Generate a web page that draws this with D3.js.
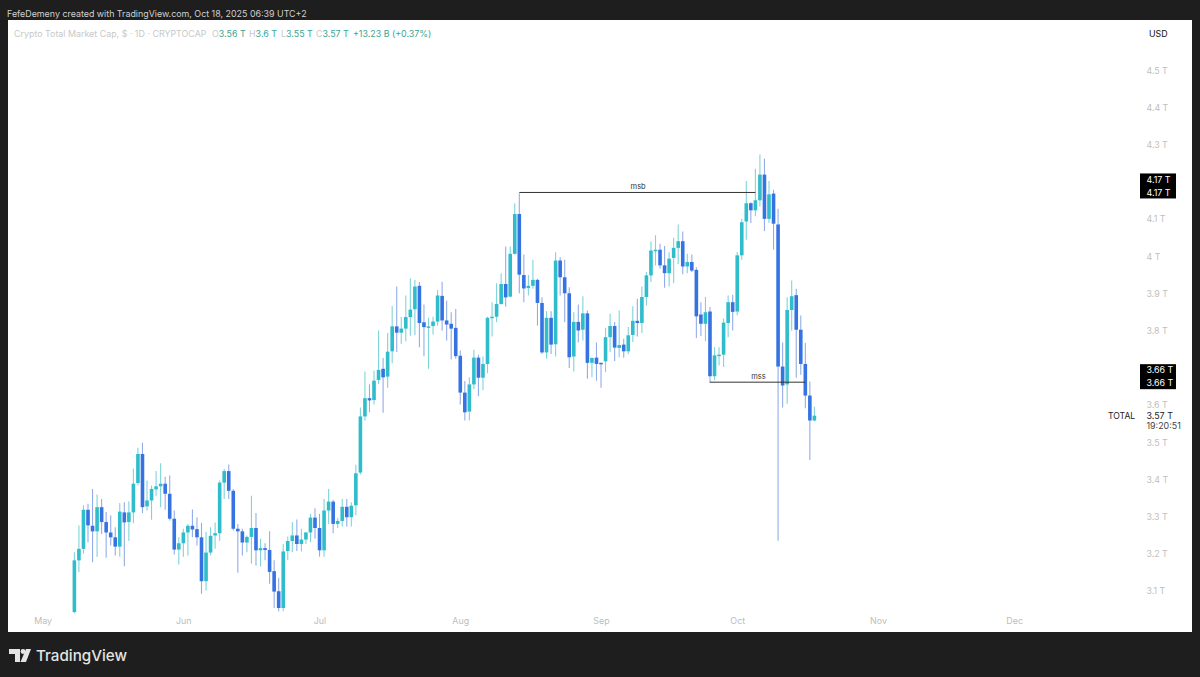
<!DOCTYPE html>
<html><head><meta charset="utf-8">
<script src="https://cdnjs.cloudflare.com/ajax/libs/d3/7.8.5/d3.min.js"></script>
<style>html,body{margin:0;padding:0;background:#1e1e1e}svg{display:block}text{font-family:Inter,"Liberation Sans",sans-serif}</style>
</head><body><svg id="c" width="1200" height="677"></svg>
<script>
const opens=[3.042,3.181,3.212,3.317,3.274,3.259,3.324,3.284,3.256,3.243,3.218,3.310,3.284,3.310,3.389,3.467,3.326,3.342,3.372,3.380,3.387,3.360,3.293,3.210,3.227,3.256,3.274,3.265,3.243,3.125,3.202,3.248,3.254,3.390,3.421,3.368,3.266,3.259,3.229,3.244,3.268,3.208,3.214,3.209,3.152,3.098,3.053,3.206,3.233,3.248,3.225,3.237,3.256,3.296,3.268,3.208,3.315,3.339,3.279,3.287,3.325,3.297,3.329,
3.417,3.568,3.617,3.612,3.666,3.696,3.675,3.743,3.810,3.793,3.804,3.835,3.856,3.919,3.821,3.808,3.811,3.823,3.892,3.826,3.817,3.806,3.731,3.632,3.581,3.654,3.726,3.672,3.709,3.833,3.836,3.870,3.924,3.890,4.005,4.112,3.948,3.913,3.919,3.935,3.873,3.740,3.833,3.762,3.987,3.942,3.899,3.729,3.822,3.801,3.845,3.712,3.726,
3.712,3.716,3.781,3.811,3.752,3.761,3.743,3.787,3.825,3.819,3.889,3.947,4.014,4.016,3.974,3.953,3.994,4.021,4.039,3.971,3.983,3.962,3.842,3.817,3.850,3.676,3.732,3.734,3.819,3.875,3.850,4.001,4.092,4.141,4.122,4.149,4.218,4.099,4.167,4.084,3.702,3.654,3.854,3.894,3.801,3.709,3.624,3.557];
const highs=[3.203,3.275,3.329,3.333,3.373,3.358,3.346,3.311,3.302,3.270,3.335,3.337,3.340,3.427,3.484,3.497,3.396,3.382,3.421,3.442,3.406,3.409,3.315,3.243,3.266,3.279,3.318,3.297,3.282,3.257,3.270,3.283,3.396,3.427,3.439,3.373,3.279,3.266,3.248,3.355,3.308,3.239,3.227,3.259,3.181,3.134,3.225,3.245,3.284,3.291,3.266,3.257,3.306,3.321,3.306,3.346,3.373,3.344,3.295,3.346,3.346,3.337,3.438,
3.592,3.689,3.654,3.691,3.799,3.725,3.792,3.865,3.917,3.835,3.893,3.939,3.935,3.929,3.869,3.833,3.836,3.908,3.930,3.879,3.848,3.857,3.745,3.663,3.673,3.747,3.734,3.729,3.836,3.875,3.926,3.953,4.025,4.025,4.141,4.168,4.003,3.948,3.989,3.938,3.888,3.851,3.851,4.009,3.996,3.989,3.915,3.848,3.869,3.891,3.853,3.727,3.767,
3.712,3.806,3.844,3.822,3.853,3.777,3.808,3.864,3.884,3.917,3.956,4.039,4.055,4.032,4.026,4.009,4.048,4.084,4.065,4.005,4.003,3.969,3.875,3.889,3.862,3.754,3.754,3.831,3.893,3.895,4.010,4.099,4.201,4.144,4.234,4.272,4.261,4.201,4.177,4.126,3.767,3.888,3.933,3.911,3.839,3.765,3.662,3.594];
const lows=[3.039,3.149,3.199,3.230,3.176,3.190,3.252,3.188,3.221,3.194,3.191,3.165,3.233,3.281,3.382,3.308,3.315,3.290,3.355,3.324,3.317,3.288,3.197,3.170,3.191,3.194,3.243,3.221,3.091,3.100,3.194,3.212,3.234,3.346,3.346,3.261,3.148,3.194,3.203,3.172,3.167,3.165,3.181,3.118,3.053,3.044,3.044,3.181,3.203,3.206,3.205,3.225,3.230,3.239,3.191,3.191,3.279,3.254,3.268,3.272,3.272,3.272,3.302,
3.412,3.557,3.579,3.600,3.655,3.578,3.645,3.711,3.741,3.763,3.770,3.785,3.787,3.754,3.730,3.696,3.788,3.812,3.799,3.772,3.721,3.723,3.600,3.557,3.557,3.642,3.622,3.638,3.684,3.783,3.821,3.869,3.863,3.888,4.003,3.899,3.875,3.893,3.911,3.812,3.736,3.723,3.736,3.729,3.893,3.821,3.698,3.689,3.767,3.772,3.669,3.673,3.664,
3.645,3.687,3.741,3.717,3.727,3.726,3.735,3.768,3.783,3.792,3.866,3.929,3.974,3.965,3.914,3.917,3.926,3.978,3.950,3.953,3.956,3.779,3.784,3.770,3.658,3.665,3.705,3.701,3.781,3.799,3.840,3.989,4.043,4.088,4.106,4.132,4.066,4.088,4.016,3.234,3.592,3.602,3.799,3.672,3.680,3.590,3.451,3.555];
const closes=[3.181,3.212,3.317,3.275,3.259,3.324,3.284,3.256,3.243,3.218,3.312,3.283,3.310,3.387,3.467,3.324,3.342,3.373,3.380,3.387,3.360,3.293,3.210,3.227,3.256,3.274,3.264,3.243,3.125,3.202,3.247,3.254,3.390,3.421,3.368,3.266,3.259,3.229,3.244,3.268,3.208,3.214,3.209,3.150,3.097,3.053,3.205,3.233,3.248,3.225,3.237,3.256,3.296,3.268,3.208,3.315,3.339,3.279,3.287,3.325,3.297,3.328,3.415,
3.568,3.617,3.611,3.664,3.693,3.673,3.742,3.810,3.793,3.804,3.835,3.855,3.917,3.819,3.808,3.810,3.823,3.893,3.826,3.815,3.804,3.730,3.632,3.579,3.654,3.726,3.672,3.709,3.833,3.836,3.870,3.924,3.888,4.005,4.112,3.949,3.912,3.919,3.935,3.873,3.740,3.833,3.761,3.987,3.942,3.899,3.727,3.822,3.799,3.845,3.712,3.725,3.709,
3.709,3.781,3.811,3.753,3.760,3.743,3.786,3.825,3.819,3.889,3.947,4.014,4.016,3.974,3.953,3.992,4.021,4.039,3.971,3.983,3.960,3.837,3.817,3.848,3.676,3.732,3.734,3.820,3.875,3.849,4.001,4.090,4.141,4.122,4.149,4.218,4.099,4.165,4.086,3.702,3.651,3.854,3.891,3.801,3.709,3.624,3.557,3.570];
const firstDay="2025-05-08";
const priceTicks=[4.5,4.4,4.3,4.1,4.0,3.9,3.8,3.6,3.5,3.4,3.3,3.2,3.1];
const priceTickLabels=["4.5 T","4.4 T","4.3 T","4.1 T","4 T","3.9 T","3.8 T","3.6 T","3.5 T","3.4 T","3.3 T","3.2 T","3.1 T"];
const monthTicks=["2025-05-01","2025-06-01","2025-07-01","2025-08-01","2025-09-01","2025-10-01","2025-11-01","2025-12-01"];
const monthLabels=["May","Jun","Jul","Aug","Sep","Oct","Nov","Dec"];
const levelMsb={label:"msb",value:4.17,from:"2025-08-14",to:"2025-10-05"};
const levelMss={label:"mss",value:3.66,from:"2025-09-25",to:"2025-10-16"};
const flagValues=[["4.17 T","4.17 T"],["3.66 T","3.66 T"]];
const flagAt=[4.17,3.66];
const legendHead="Crypto Total Market Cap, $ · 1D · CRYPTOCAP";
const legendOHLC=[["O","3.56 T"],["H","3.6 T"],["L","3.55 T"],["C","3.57 T"]];
const legendX=[212,249,281,316];
const legendChange="+13.23 B (+0.37%)";

const UP="#2fbccb",DOWN="#3573e2",UPW="#7fd4d8",DOWNW="#93ace8";
const parse=d3.utcParse("%Y-%m-%d");
const x=d3.scaleUtc().domain([parse("2025-05-01"),parse("2025-12-01")]).range([42.6,42.6+214*4.54]);
const y=d3.scaleLinear().domain([3.1,4.5]).range([590.5,69.7]);
const svg=d3.select("#c");
svg.append("rect").attr("width",1200).attr("height",677).attr("fill","#1e1e1e");
svg.append("rect").attr("x",8).attr("y",20).attr("width",1184).attr("height",612).attr("fill","#ffffff");

svg.append("text").attr("x",7).attr("y",16.5).attr("fill","#d0d0d0").attr("font-size",8.9).text("FefeDemeny created with TradingView.com, Oct 18, 2025 06:39 UTC+2");

const lg=svg.append("text").attr("y",36.5).attr("font-size",8.9);
lg.append("tspan").attr("x",14).attr("fill","#c8c8c8").text(legendHead);
legendOHLC.forEach(([k,v],i)=>{
  lg.append("tspan").attr("x",legendX[i]).attr("fill","#c8c8c8").text(k);
  lg.append("tspan").attr("fill","#3aa593").text(v);
});
lg.append("tspan").attr("x",353).attr("fill","#3aa593").text(legendChange);

const dates=opens.map((_,i)=>d3.utcDay.offset(parse(firstDay),i));
const candles=opens.map((o,i)=>({d:dates[i],o,h:highs[i],l:lows[i],c:closes[i]}));
const g=svg.append("g");
g.selectAll("line.w").data(candles).join("line").attr("class","w")
 .attr("x1",d=>x(d.d)).attr("x2",d=>x(d.d)).attr("y1",d=>y(d.h)).attr("y2",d=>y(d.l))
 .attr("stroke",d=>d.c>=d.o?UPW:DOWNW).attr("stroke-width",1.1);
g.selectAll("rect.b").data(candles).join("rect").attr("class","b")
 .attr("x",d=>x(d.d)-1.8).attr("width",3.6)
 .attr("y",d=>y(Math.max(d.o,d.c))).attr("height",d=>Math.max(1.5,Math.abs(y(d.o)-y(d.c))))
 .attr("fill",d=>d.c>=d.o?UP:DOWN);

[levelMsb,levelMss].forEach(l=>{
  const x1=x(parse(l.from)),x2=x(parse(l.to));
  svg.append("line").attr("x1",x1).attr("x2",x2).attr("y1",y(l.value)).attr("y2",y(l.value)).attr("stroke","#333").attr("stroke-width",1);
  svg.append("text").attr("x",(x1+x2)/2+0.8).attr("y",y(l.value)-3).attr("text-anchor","middle").attr("font-size",7.5).attr("fill","#333").text(l.label);
});

const ya=svg.append("g").attr("transform","translate(1145.5,0.5)")
 .call(d3.axisRight(y).tickValues(priceTicks).tickSize(0).tickPadding(1).tickFormat((d,i)=>priceTickLabels[i]));
ya.select(".domain").remove();
ya.selectAll("text").attr("fill","#c0c0c0").attr("font-size",8.8).attr("font-family","Inter,'Liberation Sans',sans-serif");

const xa=svg.append("g").attr("transform","translate(0,618)")
 .call(d3.axisBottom(x).tickValues(monthTicks.map(parse)).tickSize(0).tickPadding(0).tickFormat((d,i)=>monthLabels[i]));
xa.select(".domain").remove();
xa.selectAll("text").attr("fill","#bdbdbd").attr("font-size",8.9).attr("font-family","Inter,'Liberation Sans',sans-serif");

flagAt.forEach((v,k)=>{
  const cy=y(v)+(k===0?-6.5:-5.5);
  svg.append("rect").attr("x",1140).attr("y",cy-12.5).attr("width",36).attr("height",25).attr("fill","#000");
  flagValues[k].forEach((t,j)=>svg.append("text").attr("x",1146.5).attr("y",cy-3.2+(j?12.8:0)).attr("fill","#fff").attr("font-size",8.9).text(t));
});

svg.append("text").attr("x",1149).attr("y",36.5).attr("fill","#111").attr("font-size",8.8).text("USD");
svg.append("text").attr("x",1108).attr("y",418.5).attr("fill","#222").attr("font-size",8.6).text("TOTAL");
svg.append("text").attr("x",1146.5).attr("y",418.5).attr("fill","#222").attr("font-size",8.9).text("3.57 T");
svg.append("text").attr("x",1146.5).attr("y",428.5).attr("fill","#444").attr("font-size",8.9).text("19:20:51");

const logo=svg.append("g").attr("fill","#e4e4e4");
logo.append("path").attr("d","M9 649H20V662H15V654H9Z");
logo.append("circle").attr("cx",23).attr("cy",651.5).attr("r",2.4);
logo.append("path").attr("d","M26 649H31L26 662H20.5Z");
svg.append("text").attr("x",36).attr("y",660.5).attr("fill","#e4e4e4").attr("font-size",15.2).attr("font-weight",500).text("TradingView");
</script></body></html>
